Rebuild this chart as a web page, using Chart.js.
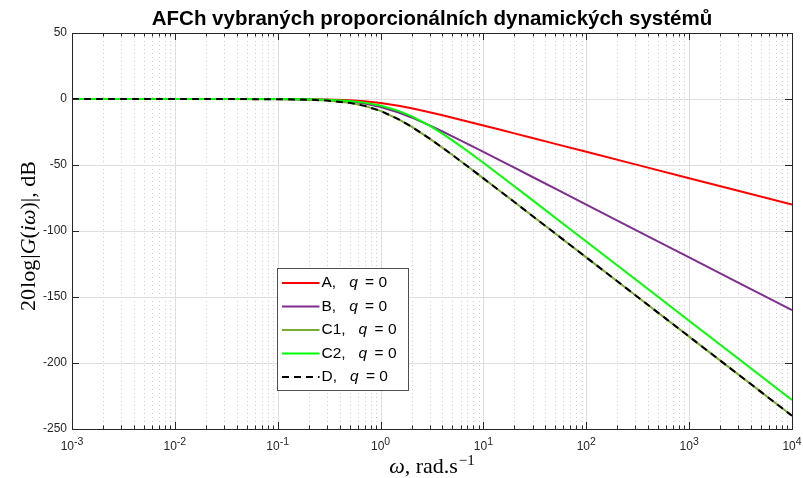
<!DOCTYPE html>
<html><head><meta charset="utf-8">
<script src="https://cdn.jsdelivr.net/npm/chart.js@4.4.0/dist/chart.umd.min.js"></script>
<style>html,body{margin:0;padding:0;background:#fff;}#wrap{width:803px;height:478px;position:relative;}</style>
</head><body><div id="wrap"><canvas id="c" width="803" height="478"></canvas></div>
<script>
// ---- data ----
const omega  = [0.001, 0.01, 0.1, 0.2, 0.3, 0.5, 0.7, 1, 1.5, 2, 3, 4, 5, 7, 10, 15, 20, 30, 50, 100, 300, 1000, 3000, 10000];
const gainA  = [0, 0, -0.04, -0.17, -0.37, -0.97, -1.73, -3.01, -5.12, -6.99, -10.0, -12.3, -14.15, -16.99, -20.04, -23.54, -26.03, -29.55, -33.98, -40.0, -49.54, -60.0, -69.54, -80.0];
const gainB  = [0, 0, -0.09, -0.34, -0.75, -1.94, -3.46, -6.02, -10.24, -13.98, -20.0, -24.61, -28.3, -33.98, -40.09, -47.08, -52.06, -59.09, -67.96, -80.0, -99.08, -120.0, -139.08, -160.0];
const gainC1 = [0, 0, -0.13, -0.51, -1.12, -2.91, -5.2, -9.03, -15.36, -20.97, -30.0, -36.91, -42.45, -50.97, -60.13, -70.62, -78.09, -88.64, -101.94, -120.0, -148.63, -180.0, -208.63, -240.0];
const gainC2 = [0, 0, -0.07, -0.26, -0.57, -1.5, -2.74, -4.95, -9.0, -13.01, -20.24, -26.28, -31.36, -39.43, -48.34, -58.7, -66.12, -76.63, -89.91, -107.96, -136.59, -167.96, -196.59, -227.96];
const gainD  = [0, 0, -0.13, -0.51, -1.12, -2.91, -5.2, -9.03, -15.36, -20.97, -30.0, -36.91, -42.45, -50.97, -60.13, -70.62, -78.09, -88.64, -101.94, -120.0, -148.63, -180.0, -208.63, -240.0];
const seriesNames = ['A', 'B', 'C1', 'C2', 'D'];
const xTickExponents = [-3, -2, -1, 0, 1, 2, 3, 4];
const yTickValues = [50, 0, -50, -100, -150, -200, -250];
const titleText = 'AFCh vybraných proporcionálních dynamických systémů';

// ---- styles ----
const seriesColors = ['#FF0000', '#7E2F8E', '#77AC30', '#00FF00', '#000000'];
const seriesDash = [[], [], [], [], [7, 5]];
const SANS = '"Liberation Sans", Arial, Helvetica, sans-serif';
const SERIF = '"Liberation Serif", "DejaVu Serif", "Times New Roman", serif';
const AXC = '#262626';

const gains = [gainA, gainB, gainC1, gainC2, gainD];
const datasets = gains.map((g, i) => ({
  label: seriesNames[i],
  data: omega.map((w, j) => ({x: w, y: g[j]})),
  borderColor: seriesColors[i],
  backgroundColor: seriesColors[i],
  borderWidth: 2,
  borderDash: seriesDash[i],
  order: gains.length - i,
  pointRadius: 0,
  tension: 0,
  fill: false
}));

function drawRich(ctx, parts, cx, cy) {
  let total = 0;
  parts.forEach(p => { ctx.font = p.font; p.w = ctx.measureText(p.t).width + (p.gap || 0); total += p.w; });
  let x = cx - total / 2;
  parts.forEach(p => { ctx.font = p.font; ctx.fillText(p.t, x, cy - (p.dy || 0)); x += p.w; });
}

const decor = {
  id: 'decor',
  beforeDraw(chart) {
    const ctx = chart.ctx;
    ctx.save(); ctx.fillStyle = '#fff'; ctx.fillRect(0, 0, chart.width, chart.height); ctx.restore();
  },
  beforeDatasetsDraw(chart) {
    const {ctx, chartArea: a, scales: {x, y}} = chart;
    ctx.save();
    ctx.lineWidth = 1;
    ctx.strokeStyle = '#cdcdcd';
    ctx.setLineDash([1, 3]);
    for (let e = -3; e < 4; e++) for (let k = 2; k <= 9; k++) {
      const px = Math.round(x.getPixelForValue(k * Math.pow(10, e))) + 0.5;
      ctx.beginPath(); ctx.moveTo(px, a.top); ctx.lineTo(px, a.bottom); ctx.stroke();
    }
    ctx.setLineDash([]);
    ctx.strokeStyle = '#dedede';
    xTickExponents.forEach(e => {
      const px = Math.round(x.getPixelForValue(Math.pow(10, e))) + 0.5;
      ctx.beginPath(); ctx.moveTo(px, a.top); ctx.lineTo(px, a.bottom); ctx.stroke();
    });
    yTickValues.forEach(v => {
      const py = Math.round(y.getPixelForValue(v)) + 0.5;
      ctx.beginPath(); ctx.moveTo(a.left, py); ctx.lineTo(a.right, py); ctx.stroke();
    });
    ctx.restore();
  },
  afterDatasetsDraw(chart) {
    const {ctx, chartArea: a, scales: {x, y}} = chart;
    ctx.save();
    ctx.strokeStyle = AXC; ctx.lineWidth = 1;
    ctx.strokeRect(Math.round(a.left) + 0.5, Math.round(a.top) + 0.5, Math.round(a.right - a.left), Math.round(a.bottom - a.top));
    ctx.beginPath();
    for (let e = -3; e <= 4; e++) for (let k = 1; k <= 9; k++) {
      if (e === 4 && k > 1) break;
      const px = Math.round(x.getPixelForValue(k * Math.pow(10, e))) + 0.5;
      const len = k === 1 ? 7 : 3.5;
      ctx.moveTo(px, a.bottom); ctx.lineTo(px, a.bottom - len);
      ctx.moveTo(px, a.top); ctx.lineTo(px, a.top + len);
    }
    yTickValues.forEach(v => {
      const py = Math.round(y.getPixelForValue(v)) + 0.5;
      ctx.moveTo(a.left, py); ctx.lineTo(a.left + 7, py);
      ctx.moveTo(a.right, py); ctx.lineTo(a.right - 7, py);
    });
    ctx.stroke();
    ctx.fillStyle = AXC; ctx.font = '12px ' + SANS;
    ctx.textAlign = 'right'; ctx.textBaseline = 'middle';
    yTickValues.forEach(v => ctx.fillText(String(v), a.left - 5, y.getPixelForValue(v)));
    ctx.textAlign = 'left'; ctx.textBaseline = 'alphabetic';
    xTickExponents.forEach(e => {
      const px = x.getPixelForValue(Math.pow(10, e));
      drawRich(ctx, [
        {t: '10', font: '12px ' + SANS},
        {t: String(e), font: '10.5px ' + SANS, dy: 4.5}
      ], px, 449.5);
    });
    ctx.fillStyle = '#000';
    ctx.font = 'bold 20.5px ' + SANS;
    ctx.textAlign = 'center';
    ctx.fillText(titleText, (a.left + a.right) / 2, 24.5);
    ctx.textAlign = 'left';
    drawRich(ctx, [
      {t: 'ω', font: 'italic 22px ' + SERIF},
      {t: ', rad.s', font: '22px ' + SERIF, gap: 1},
      {t: '−1', font: '15px ' + SERIF, dy: 8.5}
    ], (a.left + a.right) / 2, 473);
    ctx.save();
    ctx.translate(35, (a.top + a.bottom) / 2 + 5);
    ctx.rotate(-Math.PI / 2);
    const F = '22px ' + SERIF, FI = 'italic 22px ' + SERIF;
    drawRich(ctx, [
      {t: '20', font: F, gap: 1},
      {t: 'log', font: F, gap: 1},
      {t: '|', font: F},
      {t: 'G', font: FI},
      {t: '(', font: F},
      {t: 'i', font: FI},
      {t: 'ω', font: FI},
      {t: ')', font: F},
      {t: '|', font: F},
      {t: ', dB', font: F}
    ], 0, 0);
    ctx.restore();
    const L = {x: 277, y: 268, w: 131, h: 122};
    ctx.fillStyle = '#fff';
    ctx.fillRect(L.x, L.y, L.w, L.h);
    ctx.strokeStyle = '#4d4d4d'; ctx.lineWidth = 1;
    ctx.strokeRect(L.x + 0.5, L.y + 0.5, L.w, L.h);
    const rowY = [283, 306.5, 330, 353.5, 377];
    seriesNames.forEach((name, i) => {
      const yy = rowY[i];
      ctx.strokeStyle = seriesColors[i]; ctx.lineWidth = 2;
      ctx.setLineDash(seriesDash[i]);
      ctx.beginPath(); ctx.moveTo(282, yy); ctx.lineTo(319.5, yy); ctx.stroke();
      ctx.setLineDash([]);
      ctx.fillStyle = '#000'; ctx.textBaseline = 'middle'; ctx.textAlign = 'left';
      let tx = 321.5;
      ctx.font = '15.5px ' + SANS;
      const pre = name + ',';
      ctx.fillText(pre, tx, yy); tx += ctx.measureText(pre).width + 13;
      ctx.font = 'italic 15.5px ' + SANS;
      ctx.fillText('q', tx, yy); tx += ctx.measureText('q').width;
      ctx.font = '15.5px ' + SANS;
      ctx.fillText(' = 0', tx + 3, yy);
    });
    ctx.restore();
  }
};

new Chart(document.getElementById('c'), {
  type: 'line',
  data: {datasets},
  options: {
    responsive: false,
    animation: false,
    layout: {padding: {left: 72, top: 33, right: 11, bottom: 49}},
    plugins: {legend: {display: false}, title: {display: false}, tooltip: {enabled: false}},
    scales: {
      x: {type: 'logarithmic', min: 0.001, max: 10000, display: false},
      y: {type: 'linear', min: -250, max: 50, display: false}
    }
  },
  plugins: [decor]
});
</script>
</body></html>
